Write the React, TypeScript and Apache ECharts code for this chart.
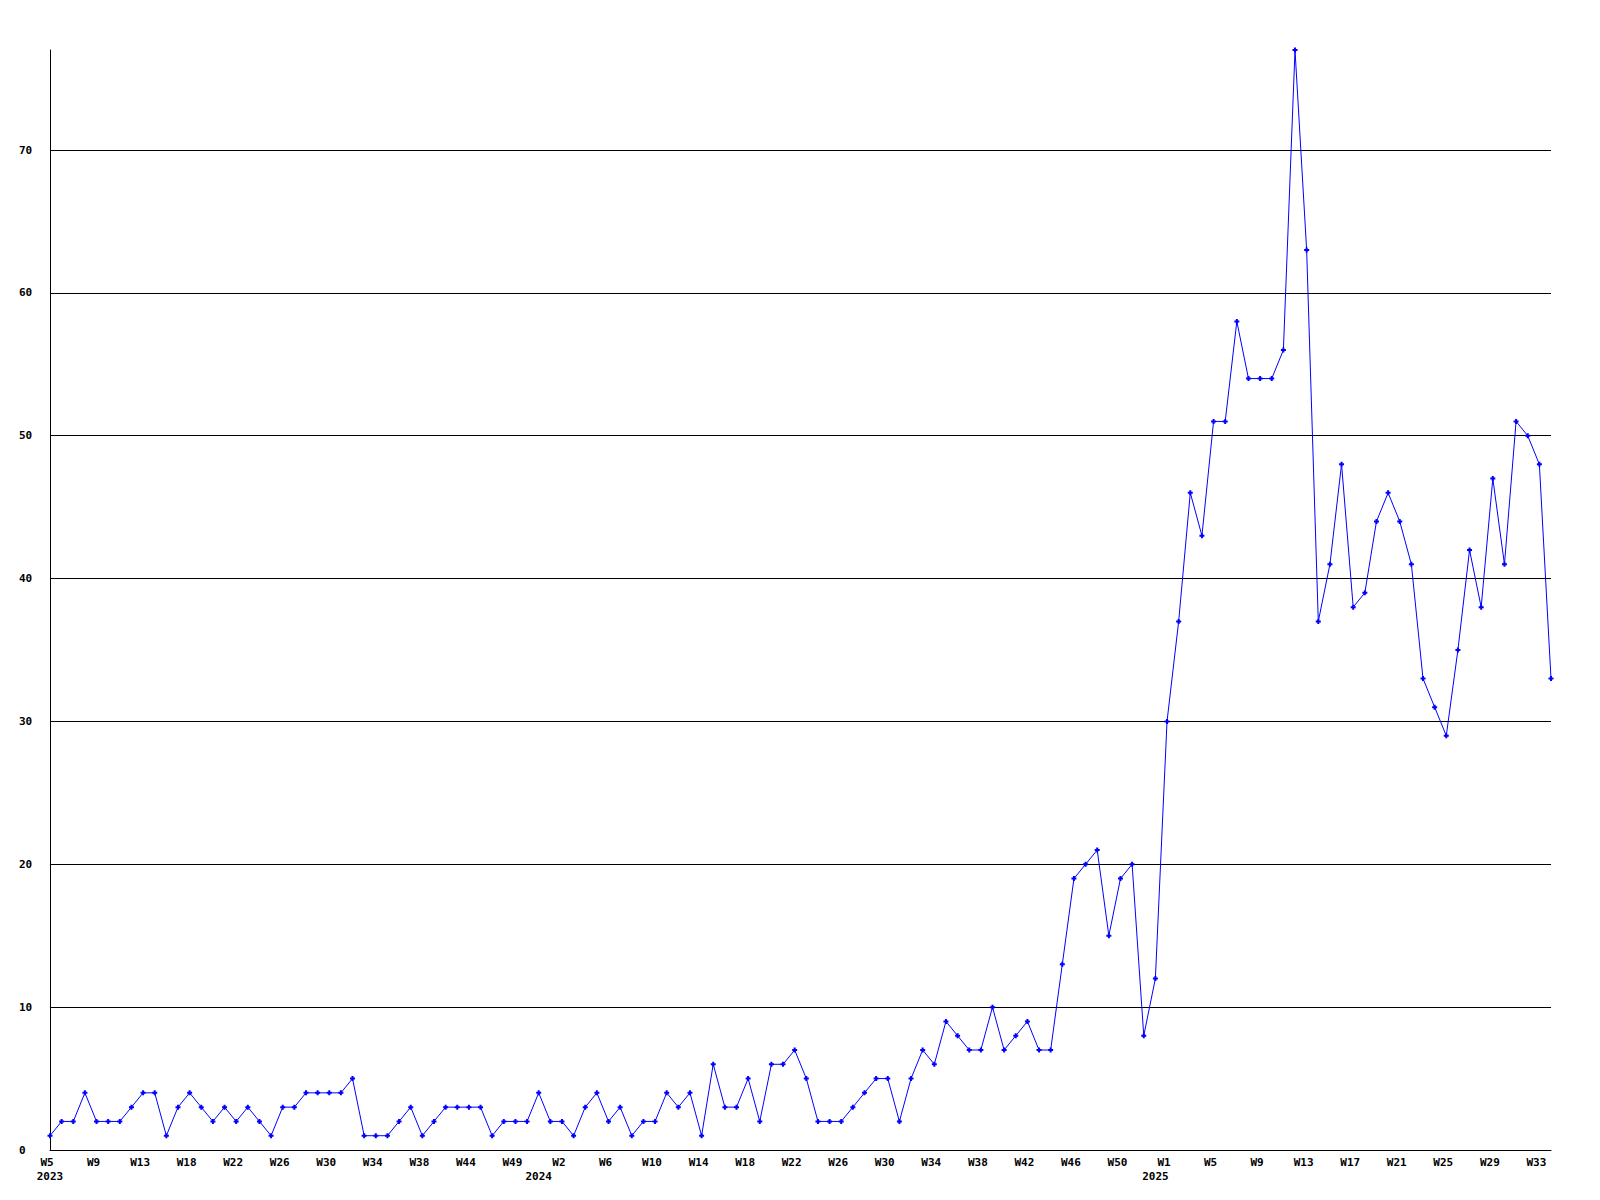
import React, { useEffect, useRef } from "react";
import * as echarts from "echarts";

// Week numbers present in the data, per year
const weeks2023: number[] = [5, 6, 7, 8, 9, 10, 11, 12, 13, 14, 15, 16, 18, 19, 20, 21, 22, 23, 24, 25, 26, 27, 28, 29, 30, 31, 32, 33, 34, 35, 36, 37, 38, 39, 41, 42, 44, 45, 46, 47, 49, 50, 51, 52];
const weeks2024: number[] = [2, 3, 4, 5, 6, 7, 8, 9, 10, 11, 12, 13, 14, 15, 16, 17, 18, 19, 20, 21, 22, 23, 24, 25, 26, 27, 28, 29, 30, 31, 32, 33, 34, 35, 36, 37, 38, 39, 40, 41, 42, 43, 44, 45, 46, 47, 48, 49, 50, 51, 52, 53];
const weeks2025: number[] = [1, 2, 3, 4, 5, 6, 7, 8, 9, 10, 11, 12, 13, 14, 15, 16, 17, 18, 19, 20, 21, 22, 23, 24, 25, 26, 27, 28, 29, 30, 31, 32, 33, 34];

const categories: string[] = [
  ...weeks2023.map((w) => `2023-W${w}`),
  ...weeks2024.map((w) => `2024-W${w}`),
  ...weeks2025.map((w) => `2025-W${w}`),
];

// Weekly counts
const values: number[] = [
  1, 2, 2, 4, 2, 2, 2, 3, 4, 4,
  1, 3, 4, 3, 2, 3, 2, 3, 2, 1,
  3, 3, 4, 4, 4, 4, 5, 1, 1, 1,
  2, 3, 1, 2, 3, 3, 3, 3, 1, 2,
  2, 2, 4, 2, 2, 1, 3, 4, 2, 3,
  1, 2, 2, 4, 3, 4, 1, 6, 3, 3,
  5, 2, 6, 6, 7, 5, 2, 2, 2, 3,
  4, 5, 5, 2, 5, 7, 6, 9, 8, 7,
  7, 10, 7, 8, 9, 7, 7, 13, 19, 20,
  21, 15, 19, 20, 8, 12, 30, 37, 46, 43,
  51, 51, 58, 54, 54, 54, 56, 77, 63, 37,
  41, 48, 38, 39, 44, 46, 44, 41, 33, 31,
  29, 35, 42, 38, 47, 41, 51, 50, 48, 33,
];

// Year captions and the categories under which they are written
const yearLabelTexts: string[] = ["2023", "2024", "2025"];
const yearLabelIndices: number[] = [0, 42, 95];

const FONT = '"DejaVu Sans Mono", "Liberation Mono", monospace';
const PLUS = "path://M1.5,0H3.5V1.5H5V3.5H3.5V5H1.5V3.5H0V1.5H1.5Z";

export default function App() {
  const ref = useRef<HTMLDivElement>(null);

  useEffect(() => {
    if (!ref.current) return;
    const chart = echarts.init(ref.current, undefined, { renderer: "svg" });
    const labelStyle = {
      color: "#000",
      fontFamily: FONT,
      fontWeight: "bold" as const,
      fontSize: 11,
    };
    chart.setOption({
      animation: false,
      backgroundColor: "#ffffff",
      grid: { left: 50, right: 49, top: 50, bottom: 50, containLabel: false },
      xAxis: [
        {
          type: "category",
          data: categories,
          boundaryGap: false,
          axisLine: { show: true, lineStyle: { color: "#000", width: 1 } },
          axisTick: { show: false },
          splitLine: { show: false },
          axisLabel: {
            ...labelStyle,
            interval: 3,
            margin: 7,
            padding: [0, 6, 0, 0],
            formatter: (v: string) => v.split("-")[1],
          },
        },
        {
          type: "category",
          data: categories,
          boundaryGap: false,
          position: "bottom",
          axisLine: { show: false },
          axisTick: { show: false },
          splitLine: { show: false },
          axisLabel: {
            ...labelStyle,
            interval: (i: number) => yearLabelIndices.includes(i),
            margin: 21,
            formatter: (_v: string, i: number) => {
              const k = yearLabelIndices.indexOf(i);
              return k >= 0 ? yearLabelTexts[k] : "";
            },
          },
        },
      ],
      yAxis: {
        type: "value",
        min: 0,
        max: 77,
        interval: 10,
        axisLine: { show: true, lineStyle: { color: "#000", width: 1 } },
        axisTick: { show: false },
        axisLabel: {
          ...labelStyle,
          align: "left",
          margin: 31,
          showMaxLabel: false,
        },
        splitLine: {
          show: true,
          showMinLine: false,
          showMaxLine: false,
          lineStyle: { color: "#000", width: 1 },
        },
      },
      series: [
        {
          type: "line",
          xAxisIndex: 0,
          data: values,
          symbol: PLUS,
          symbolSize: 5,
          showAllSymbol: true,
          itemStyle: { color: "#0000ff" },
          lineStyle: { color: "#0000ff", width: 1 },
        },
      ],
    });
    return () => chart.dispose();
  }, []);

  return (
    <div
      ref={ref}
      style={{ position: "absolute", left: 0, top: 0, width: 1600, height: 1200, background: "#fff" }}
    />
  );
}
